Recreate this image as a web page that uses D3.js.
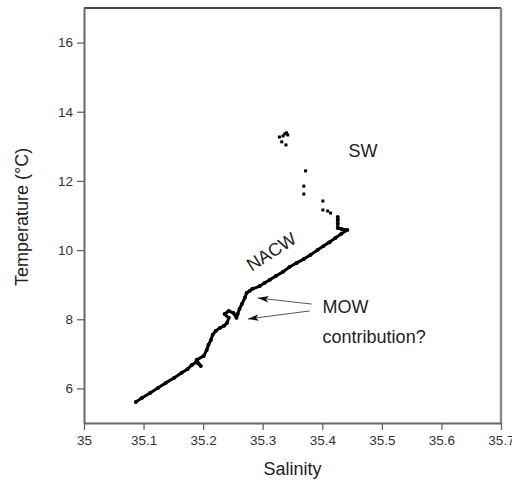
<!DOCTYPE html>
<html>
<head>
<meta charset="utf-8">
<script src="https://cdn.jsdelivr.net/npm/d3@7"></script>
<style>
  body { margin: 0; background: #fff; }
  svg { font-family: "Liberation Sans", Arial, sans-serif; }
  .axis path, .axis line { stroke: #666; }
  .axis text { fill: #333; font-size: 13.5px; }
</style>
</head>
<body>
<svg id="ts" width="512" height="481"></svg>
<script>
// CTD profile, deep to shallow (salinity, temperature)
const profileSal = [35.087, 35.097, 35.111, 35.124, 35.137, 35.151, 35.164, 35.174, 35.181,
  35.188, 35.196, 35.189, 35.201, 35.206, 35.209, 35.213, 35.216, 35.221, 35.228, 35.235,
  35.240, 35.243, 35.236, 35.243, 35.251, 35.256, 35.258, 35.261, 35.265, 35.270, 35.273,
  35.278, 35.283, 35.295, 35.303, 35.312, 35.322, 35.334, 35.345, 35.357, 35.369, 35.380,
  35.392, 35.402, 35.412, 35.422, 35.432, 35.442, 35.432, 35.426, 35.426, 35.426, 35.426];
const profileTemp = [5.61, 5.72, 5.87, 6.01, 6.16, 6.30, 6.45, 6.56, 6.68,
  6.76, 6.65, 6.82, 6.94, 7.11, 7.26, 7.40, 7.55, 7.66, 7.75, 7.81,
  7.89, 8.04, 8.15, 8.24, 8.18, 8.04, 8.15, 8.30, 8.44, 8.62, 8.76,
  8.82, 8.88, 8.96, 9.05, 9.14, 9.25, 9.37, 9.51, 9.63, 9.74, 9.86,
  10.00, 10.12, 10.23, 10.35, 10.47, 10.58, 10.61, 10.64, 10.76, 10.87, 10.96];

// sparse surface-layer samples
const surfaceSal = [35.414, 35.409, 35.401, 35.401, 35.369, 35.369, 35.372,
  35.339, 35.332, 35.328, 35.334, 35.337, 35.340, 35.342];
const surfaceTemp = [11.07, 11.13, 11.16, 11.42, 11.62, 11.85, 12.29,
  13.04, 13.13, 13.27, 13.30, 13.36, 13.39, 13.33];

const xTicks = [35, 35.1, 35.2, 35.3, 35.4, 35.5, 35.6, 35.7];
const yTicks = [6, 8, 10, 12, 14, 16];

const margin = {left: 84, top: 8, right: 11, bottom: 58};
const width = 512, height = 481;

const svg = d3.select('#ts');

const x = d3.scaleLinear()
    .domain([35, 35.7])
    .range([margin.left, width - margin.right]);

const y = d3.scaleLinear()
    .domain([5, 17])
    .range([height - margin.bottom, margin.top]);

// frame: top black, right grey
svg.append('line')
    .attr('x1', x(35)).attr('x2', x(35.7))
    .attr('y1', y(17)).attr('y2', y(17))
    .attr('stroke', '#111').attr('stroke-width', 1.6);
svg.append('line')
    .attr('x1', x(35.7)).attr('x2', x(35.7))
    .attr('y1', y(17)).attr('y2', y(5))
    .attr('stroke', '#888').attr('stroke-width', 2.4);

svg.append('g')
    .attr('class', 'axis')
    .attr('transform', `translate(0, ${y(5)})`)
    .call(d3.axisBottom(x).tickValues(xTicks).tickSize(7).tickSizeOuter(0).tickPadding(5)
        .tickFormat(d => d3.format('')(+d.toFixed(1))))
    .call(g => g.select('.domain').attr('stroke-width', 2))
    .call(g => g.selectAll('.tick line').attr('stroke-width', 1.3));

svg.append('g')
    .attr('class', 'axis')
    .attr('transform', `translate(${x(35)}, 0)`)
    .call(d3.axisLeft(y).tickValues(yTicks).tickSize(7).tickSizeOuter(0).tickPadding(4))
    .call(g => g.select('.domain').attr('stroke-width', 2))
    .call(g => g.selectAll('.tick line').attr('stroke-width', 1.3));

// axis titles
svg.append('text')
    .attr('x', (x(35) + x(35.7)) / 2)
    .attr('y', 475)
    .attr('text-anchor', 'middle')
    .attr('font-size', 18)
    .attr('fill', '#222')
    .text('Salinity');

svg.append('text')
    .attr('transform', `translate(28, ${217}) rotate(-90)`)
    .attr('text-anchor', 'middle')
    .attr('font-size', 18)
    .attr('fill', '#222')
    .text('Temperature (°C)');

// profile
const profile = profileSal.map((s, i) => [s, profileTemp[i]]);
const surface = surfaceSal.map((s, i) => [s, surfaceTemp[i]]);

svg.append('path')
    .datum(profile)
    .attr('fill', 'none')
    .attr('stroke', '#000')
    .attr('stroke-width', 3)
    .attr('stroke-linejoin', 'round')
    .attr('d', d3.line().x(d => x(d[0])).y(d => y(d[1])));

svg.append('g')
    .selectAll('circle')
    .data(profile)
    .join('circle')
    .attr('cx', d => x(d[0]))
    .attr('cy', d => y(d[1]))
    .attr('r', 2)
    .attr('fill', '#000');

svg.append('g')
    .selectAll('rect')
    .data(surface)
    .join('rect')
    .attr('x', d => x(d[0]) - 1.5)
    .attr('y', d => y(d[1]) - 1.5)
    .attr('width', 3).attr('height', 3)
    .attr('fill', '#000');

// annotations
const label = (s, t, txt, rot) => svg.append('text')
    .attr('transform', `translate(${x(s)}, ${y(t)})` + (rot ? ` rotate(${rot})` : ''))
    .attr('font-size', 18)
    .attr('fill', '#222')
    .text(txt);

label(35.444, 12.69, 'SW');
label(35.2815, 9.37, 'NACW', -33);
label(35.4005, 8.18, 'MOW');
label(35.4005, 7.31, 'contribution?');

svg.append('defs').append('marker')
    .attr('id', 'head')
    .attr('viewBox', '0 0 10 6')
    .attr('refX', 10).attr('refY', 3)
    .attr('markerWidth', 11).attr('markerHeight', 7)
    .attr('markerUnits', 'userSpaceOnUse')
    .attr('orient', 'auto')
    .append('path')
    .attr('d', 'M0,0L10,3L0,6L2.5,3Z')
    .attr('fill', '#111');

const arrows = [
  {from: [35.382, 8.44], to: [35.2916, 8.615]},
  {from: [35.379, 8.24], to: [35.275, 8.008]}
];

svg.append('g')
    .selectAll('line')
    .data(arrows)
    .join('line')
    .attr('x1', d => x(d.from[0])).attr('y1', d => y(d.from[1]))
    .attr('x2', d => x(d.to[0])).attr('y2', d => y(d.to[1]))
    .attr('stroke', '#555')
    .attr('stroke-width', 1)
    .attr('marker-end', 'url(#head)');
</script>
</body>
</html>
